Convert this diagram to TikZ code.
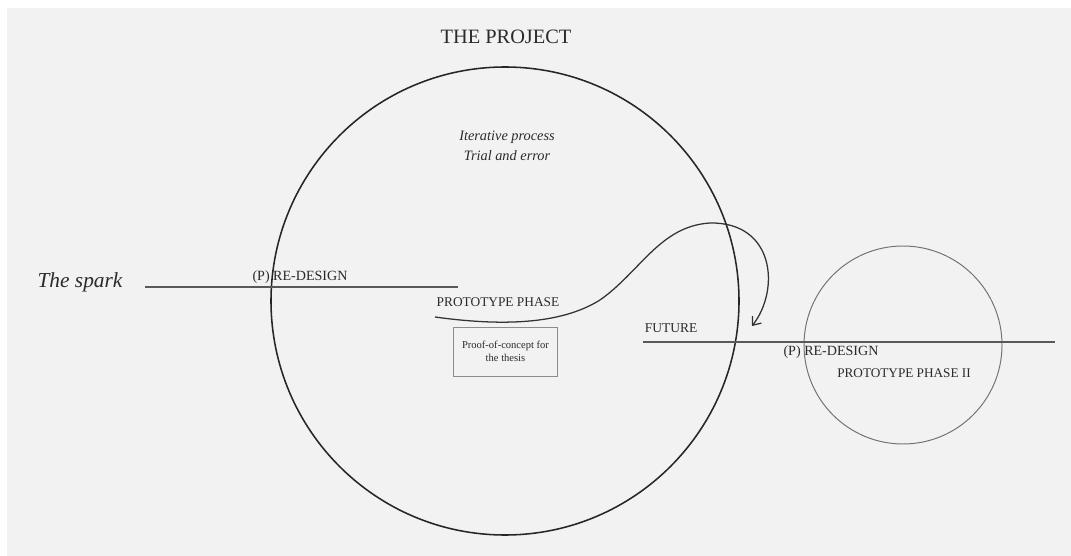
\documentclass[tikz,border=0pt]{standalone}
\usepackage{fontspec}
\setmainfont{Liberation Serif}
\usetikzlibrary{arrows.meta}
\definecolor{paper}{HTML}{F2F2F2}
\definecolor{ink}{HTML}{2A2A2A}
\begin{document}
\begin{tikzpicture}[x=0.025cm, y=-0.025cm]
\tikzstyle{label} = [text=ink, inner sep=0pt]
\tikzstyle{track} = [draw=black!65, line width=1.3pt]
\tikzstyle{ring} = [draw=black!85, line width=1.1pt]
\tikzstyle{loop} = [draw=black!80, line width=0.9pt, -{Straight Barb[length=5pt, width=8pt]}]

\useasboundingbox (0,0) rectangle (1071,556);
\fill[white] (0,0) rectangle (1071,556);
\fill[paper] (7,8) rectangle (1071,556);

% the two circles
\draw[ring] (505,301) circle [radius=234];
\draw[draw=black!55, line width=0.7pt] (903,345) circle [radius=99];

\node[label, font=\fontsize{14.5}{16}\selectfont] (project) at (506,37) {THE PROJECT};
\node[label, font=\fontsize{10.2}{14.2}\selectfont\itshape, align=center] (iter) at (507,146) {Iterative process\\Trial and error};

\node[label, font=\fontsize{15.2}{17}\selectfont\itshape] (spark) at (80,282) {The spark};
\coordinate (s1) at (145,287);
\coordinate (s2) at (458,287);
\draw[track] (s1) -- (s2);
\node[label, font=\fontsize{10}{12}\selectfont] (redesign1) at (300,277) {(P) RE-DESIGN};

\node[label, font=\fontsize{9.5}{11}\selectfont] (proto) at (498,302) {PROTOTYPE PHASE};
\node[draw=black!45, line width=0.5pt, minimum width=74.4pt, minimum height=34.7pt, align=center,
      text=ink, font=\fontsize{7.5}{9.2}\selectfont] (proof) at (505.5,351.5) {Proof-of-concept for\\the thesis};

% the loop out of the prototype phase
\coordinate (c0) at (435,317);
\coordinate (c1) at (600,300);
\coordinate (c2) at (710,223);
\coordinate (c3) at (752,326);
\draw[loop] (c0) .. controls (500,326) and (560,325) .. (c1)
  .. controls (640,272) and (660,226) .. (c2)
  .. controls (775,222) and (780,290) .. (c3);

\node[label, font=\fontsize{9.6}{11}\selectfont] (future) at (671,328) {FUTURE};
\coordinate (f1) at (643,342);
\coordinate (f2) at (1055,342);
\draw[track] (f1) -- (f2);
\node[label, font=\fontsize{10}{12}\selectfont] (redesign2) at (831,352) {(P) RE-DESIGN};
\node[label, font=\fontsize{9.4}{11}\selectfont] (proto2) at (904,373) {PROTOTYPE PHASE II};
\end{tikzpicture}
\end{document}
